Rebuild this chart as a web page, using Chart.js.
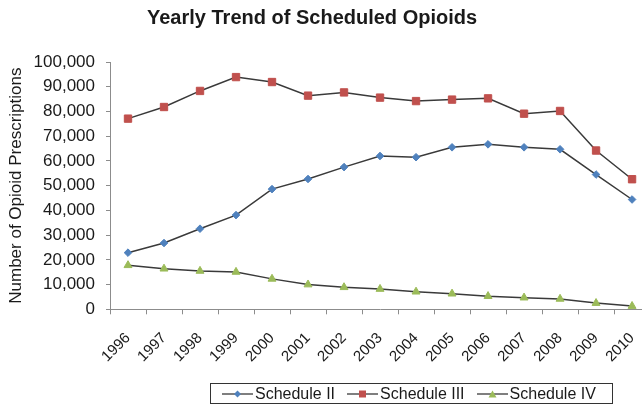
<!DOCTYPE html>
<html>
<head>
<meta charset="utf-8">
<script src="https://cdn.jsdelivr.net/npm/chart.js@4.4.1/dist/chart.umd.min.js"></script>
<style>
  html, body { margin: 0; padding: 0; background: #fff; }
  body { width: 642px; height: 408px; overflow: hidden; position: relative; font-family: "Liberation Sans", Arial, sans-serif; }
  #wrap { position: absolute; left: 0; top: 0; width: 660px; height: 408px; }
  #title { position: absolute; left: 147px; top: 6px; font-size: 20px; font-weight: bold; color: #1a1a1a; line-height: 22px; white-space: nowrap; }
  #legend { position: absolute; left: 210px; top: 383px; width: 390px; height: 19px; border: 1px solid #333; display: flex; align-items: center; padding-left: 11px; box-sizing: content-box; }
  .item { display: flex; align-items: center; margin-right: 12px; font-size: 16px; color: #1a1a1a; white-space: nowrap; }
  .item svg { margin-right: 2px; }
</style>
</head>
<body>
<div id="wrap"><canvas id="c" width="660" height="408"></canvas></div>
<div id="title">Yearly Trend of Scheduled Opioids</div>
<div id="legend"></div>
<script>
// ---- Data ----
const years = ["1996","1997","1998","1999","2000","2001","2002","2003","2004","2005","2006","2007","2008","2009","2010"];
const scheduleII  = [22900, 26800, 32600, 38100, 48600, 52700, 57500, 62000, 61500, 65500, 66700, 65500, 64700, 54500, 44400];
const scheduleIII = [77100, 81800, 88300, 93900, 91900, 86400, 87700, 85600, 84200, 84800, 85300, 79100, 80200, 64200, 52600];
const scheduleIV  = [17800, 16400, 15500, 15100, 12300, 10000, 8900, 8200, 7100, 6300, 5300, 4700, 4200, 2500, 1300];
const seriesNames = ["Schedule II", "Schedule III", "Schedule IV"];
const yTicks = [0, 10000, 20000, 30000, 40000, 50000, 60000, 70000, 80000, 90000, 100000];

const lineColor = '#3a3a3a';
const colors = ['#4F81BD', '#C0504D', '#9BBB59'];
const styles = ['rectRot', 'rect', 'triangle'];
const radii = [3.8, 5.2, 4.6];
const seriesData = [scheduleII, scheduleIII, scheduleIV];

const datasets = seriesData.map((d, i) => ({
  label: seriesNames[i],
  data: d,
  borderColor: lineColor,
  borderWidth: 1.5,
  tension: 0,
  pointStyle: styles[i],
  pointRadius: radii[i],
  pointBackgroundColor: colors[i],
  pointBorderColor: colors[i],
  pointBorderWidth: 1
}));

const axisGrey = '#8c8c8c';

new Chart(document.getElementById('c'), {
  type: 'line',
  data: { labels: years, datasets },
  options: {
    responsive: false,
    animation: false,
    devicePixelRatio: 1,
    layout: { padding: { left: 0, right: 5.5, top: 62, bottom: 0 } },
    plugins: { legend: { display: false }, title: { display: false }, tooltip: { enabled: false } },
    scales: {
      x: {
        type: 'category',
        offset: true,
        grid: { display: true, offset: true, drawOnChartArea: false, color: axisGrey, tickLength: 5, lineWidth: 1 },
        border: { color: axisGrey, width: 1 },
        ticks: {
          minRotation: 45, maxRotation: 45, autoSkip: false,
          font: { family: '"Liberation Sans", Arial, sans-serif', size: 15 },
          color: '#1a1a1a', padding: 15
        },
        afterFit(scale) { scale.height = 98.7; }
      },
      y: {
        min: 0, max: 100000,
        afterBuildTicks(scale) { scale.ticks = yTicks.map(v => ({ value: v })); },
        grid: { display: true, drawOnChartArea: false, color: axisGrey, tickLength: 4, lineWidth: 1 },
        border: { color: axisGrey, width: 1 },
        ticks: {
          font: { family: '"Liberation Sans", Arial, sans-serif', size: 17 },
          color: '#1a1a1a', padding: 11,
          callback: (v) => Number(v).toLocaleString('en-US')
        },
        title: {
          display: true, text: 'Number of Opioid Prescriptions',
          font: { family: '"Liberation Sans", Arial, sans-serif', size: 17 },
          color: '#1a1a1a', padding: { top: 6, bottom: 0 }
        },
        afterFit(scale) { scale.width = 110; }
      }
    }
  }
});

// ---- HTML legend ----
const legend = document.getElementById('legend');
seriesNames.forEach((name, i) => {
  const item = document.createElement('div');
  item.className = 'item';
  let marker;
  if (styles[i] === 'rectRot') marker = `<polygon points="15.5,1.5 19,5 15.5,8.5 12,5" fill="${colors[i]}"/>`;
  else if (styles[i] === 'rect') marker = `<rect x="12" y="1.5" width="7" height="7" fill="${colors[i]}"/>`;
  else marker = `<polygon points="15.5,1.5 19.5,8.5 11.5,8.5" fill="${colors[i]}"/>`;
  item.innerHTML = `<svg width="31" height="10" viewBox="0 0 31 10"><line x1="0" y1="5" x2="31" y2="5" stroke="${lineColor}" stroke-width="1.3"/>${marker}</svg><span>${name}</span>`;
  legend.appendChild(item);
});
</script>
</body>
</html>
